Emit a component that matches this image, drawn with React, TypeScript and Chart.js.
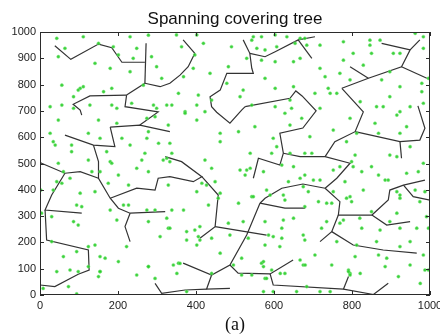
import React, { useEffect, useRef } from "react";
import { Chart, registerables } from "chart.js";

Chart.register(...registerables);

const chartTitle = "Spanning covering tree";
const axisCaption = "(a)";
const xTickValues = [0, 200, 400, 600, 800, 1000];
const yTickValues = [0, 100, 200, 300, 400, 500, 600, 700, 800, 900, 1000];

// Green sensor nodes, [x, y]
const nodesUpper: number[][] = [
  [43,976],[111,982],[150,957],[231,982],[278,988],[64,938],[188,944],[201,913],[248,938],[47,906],
  [239,900],[286,906],[180,862],[299,868],[141,881],[231,849],[56,798],[86,754],[103,786],[111,792],
  [98,779],[163,773],[184,786],[265,798],[312,824],[26,716],[56,722],[86,710],[128,722],[184,722],
  [197,710],[235,729],[291,722],[299,710],[325,722],
  [350,989],[402,989],[547,982],[568,982],[603,989],[633,982],[667,976],[363,944],[419,957],[491,944],
  [543,969],[556,938],[577,932],[607,944],[654,957],[397,913],[530,900],[568,893],[393,862],[436,843],
  [483,868],[603,887],[650,887],[368,830],[577,824],[479,805],[521,779],[603,786],[650,792],[355,767],
  [406,760],[513,754],[641,741],[338,722],[402,722],[372,697],[440,741],[603,716],[645,710],[543,722],
  [679,976],[718,950],[684,950],[778,963],[846,969],[872,969],[846,950],[962,995],[983,982],[803,919],
  [850,919],[906,919],[923,919],[983,938],[778,893],[829,874],[667,900],[718,862],[769,843],[731,830],
  [795,818],[876,818],[897,849],[996,824],[923,792],[979,805],[739,786],[705,767],[744,767],[761,767],
  [897,754],[979,773],[821,735],[863,716],[880,716],[949,716],[983,729],[718,710],[923,697]
];

const nodesMiddle: number[][] = [
  [47,665],[150,665],[197,653],[274,672],[295,678],[26,615],[34,583],[39,570],[81,570],[154,596],
  [210,596],[278,621],[304,577],[81,545],[124,615],[171,545],[231,570],[269,539],[274,596],[325,520],
  [124,513],[180,507],[184,501],[261,513],[316,513],[47,501],[60,469],[133,469],[154,469],[201,456],
  [248,482],[278,469],[43,431],[56,425],[77,444],[175,425],[227,418],[103,387],[141,393],[2,399],
  [34,399],[329,418],
  [329,646],[372,691],[402,665],[423,697],[628,691],[333,577],[462,615],[551,640],[641,646],[462,583],
  [509,621],[598,596],[607,564],[338,539],[423,513],[539,539],[594,539],[641,539],[333,507],[440,482],
  [513,475],[530,475],[526,456],[539,482],[573,469],[620,494],[650,488],[415,425],[449,431],[427,418],
  [402,393],[462,387],[581,399],[590,380],[543,374],[637,431],[667,444],[624,380],
  [671,672],[795,672],[859,653],[915,684],[940,640],[752,627],[692,602],[786,583],[812,615],[868,615],
  [923,615],[949,564],[679,539],[697,539],[808,532],[799,507],[803,488],[850,488],[897,532],[915,526],
  [983,501],[679,456],[752,475],[769,488],[825,469],[868,456],[940,463],[970,469],[701,437],[718,437],
  [782,431],[885,437],[893,437],[829,399],[688,393],[752,393],[795,374],[915,393],[923,380],[962,399],
  [987,393],[675,412]
];

const nodesLower: number[][] = [
  [94,342],[107,336],[86,279],[98,266],[30,298],[180,323],[214,342],[227,342],[274,323],[295,323],
  [197,285],[278,279],[329,254],[4,311],[30,203],[94,165],[124,184],[141,190],[60,146],[154,146],
  [167,140],[201,127],[222,184],[308,222],[278,108],[124,108],[154,89],[77,95],[43,89],
  [457,368],[432,342],[509,349],[547,374],[628,361],[338,323],[368,323],[325,292],[333,254],[410,260],
  [483,273],[521,279],[577,279],[624,285],[650,292],[376,241],[397,247],[406,222],[410,209],[376,209],
  [402,190],[440,216],[487,228],[534,216],[620,254],[586,228],[598,222],[620,216],[577,190],[615,184],
  [462,159],[517,140],[568,121],[573,108],[594,95],[342,114],[355,121],[628,82],[667,133],
  [679,336],[714,355],[735,349],[748,349],[786,368],[799,355],[923,368],[974,355],[850,317],[915,311],
  [991,298],[778,285],[820,292],[735,279],[675,228],[722,254],[769,273],[825,254],[872,247],[923,254],
  [966,254],[996,254],[897,279],[679,209],[761,203],[812,190],[863,203],[923,184],[949,203],[705,152],
  [808,146],[868,152],[889,140],[983,152],[675,114],[748,114],[791,95],[795,82],[949,114],[987,95],
  [98,89],[154,89],[150,70],[248,76],[278,108],[351,82],[359,120],[440,82],[496,114],[517,76],
  [543,76],[573,127],[577,63],[581,63],[573,13],[598,13],[616,82],[658,13],[684,32],[718,13],
  [744,13],[680,114],[791,89],[795,76],[821,82],[919,70],[975,44],[996,95],[73,32],[94,4],
  [295,63],[376,13],[885,108],[8,25]
];

// Tree branches (polylines), [x, y] vertices
const branchesNorth: number[][][] = [
  [[38,948],[79,896],[150,954],[184,940],[210,885],[269,885]],
  [[272,957],[269,805]],
  [[269,805],[308,792],[333,805],[359,836],[380,868],[397,919],[367,970]],
  [[269,805],[222,760]],
  [[222,760],[128,757],[85,725],[103,703],[107,684]],
  [[222,760],[218,716],[303,696],[256,646]],
  [[538,919],[577,906],[603,925],[662,970],[705,982]],
  [[662,970],[697,900]],
  [[521,970],[538,919],[543,862],[547,843],[479,843],[462,779],[436,754],[440,716],[453,695],[487,653],[517,703],[526,716]],
  [[526,716],[641,748],[656,776],[672,757],[708,700],[674,635],[615,615],[624,539],[615,494],[560,520],[547,444]],
  [[774,786],[842,824],[927,868],[949,932],[974,970]],
  [[949,932],[876,957]],
  [[927,868],[992,824]],
  [[795,868],[842,824]]
];

const branchesCentral: number[][][] = [
  [[180,638],[256,646],[333,621]],
  [[180,638],[192,564],[137,570],[64,608]],
  [[137,570],[150,507],[150,444],[180,368],[201,330],[231,311],[321,317]],
  [[0,505],[4,501],[64,463],[103,469],[150,444]],
  [[180,368],[248,406],[295,399],[303,444],[333,450],[393,431],[415,450],[363,507],[321,526]],
  [[731,406],[761,444],[795,501],[731,526],[667,526],[624,539]],
  [[731,526],[756,583],[808,621],[829,696],[774,786]],
  [[808,621],[923,583],[974,589],[987,634],[969,719]],
  [[923,583],[927,520]]
];

const branchesSouth: number[][][] = [
  [[64,463],[30,380],[13,323],[107,311]],
  [[13,323],[17,209],[124,171],[126,95],[98,79],[38,32],[0,38]],
  [[231,311],[218,260],[231,203]],
  [[415,450],[457,380],[449,260],[410,216]],
  [[449,260],[581,228]],
  [[564,349],[530,228],[487,114],[440,76],[367,121]],
  [[440,76],[427,22],[487,25]],
  [[427,22],[372,19],[312,6],[295,44]],
  [[487,114],[508,83],[590,80],[649,133]],
  [[590,80],[598,38],[778,22],[855,2],[893,45]],
  [[778,22],[791,70]],
  [[564,349],[577,368],[620,406],[674,422],[731,406]],
  [[564,349],[628,330],[680,330]],
  [[731,406],[769,355],[765,304],[851,304],[893,361],[897,399],[932,418],[987,437]],
  [[932,418],[957,374],[1000,361]],
  [[851,304],[889,266],[949,279]],
  [[765,304],[748,241],[718,203]],
  [[748,241],[803,190],[880,171],[966,159]]
];

const toXY = (pts: number[][]) => pts.map(([x, y]) => ({ x, y }));

export default function App() {
  const ref = useRef<HTMLCanvasElement>(null);

  useEffect(() => {
    if (!ref.current) return;
    const boxPlugin = {
      id: "matlabBox",
      afterDatasetsDraw(chart: any) {
        const { ctx, chartArea: a, scales } = chart;
        const xs = scales.x;
        const ys = scales.y;
        ctx.save();
        ctx.strokeStyle = "#2b2b2b";
        ctx.lineWidth = 1;
        ctx.strokeRect(a.left + 0.5, a.top + 0.5, a.right - a.left - 1, a.bottom - a.top - 1);
        const tl = 4;
        ctx.beginPath();
        xTickValues.forEach((v) => {
          const px = Math.round(xs.getPixelForValue(v)) + 0.5;
          ctx.moveTo(px, a.bottom);
          ctx.lineTo(px, a.bottom - tl);
          ctx.moveTo(px, a.top);
          ctx.lineTo(px, a.top + tl);
        });
        yTickValues.forEach((v) => {
          const py = Math.round(ys.getPixelForValue(v)) + 0.5;
          ctx.moveTo(a.left, py);
          ctx.lineTo(a.left + tl, py);
          ctx.moveTo(a.right, py);
          ctx.lineTo(a.right - tl, py);
        });
        ctx.stroke();
        ctx.restore();
      },
    };

    const allNodes = [...nodesUpper, ...nodesMiddle, ...nodesLower];
    const allBranches = [...branchesNorth, ...branchesCentral, ...branchesSouth];

    const datasets: any[] = [
      {
        label: "nodes",
        data: toXY(allNodes),
        pointRadius: 1.6,
        pointBackgroundColor: "rgba(40,205,40,0.9)",
        pointBorderColor: "rgba(130,230,130,0.6)",
        pointBorderWidth: 0.8,
        showLine: false,
      },
      ...allBranches.map((b, i) => ({
        label: "branch" + i,
        data: toXY(b),
        showLine: true,
        pointRadius: 0,
        borderColor: "#333333",
        borderWidth: 1.2,
        fill: false,
        tension: 0,
      })),
    ];

    const tickFont = { family: "'Liberation Sans', Arial, sans-serif", size: 11 };

    const chart = new Chart(ref.current, {
      type: "scatter",
      data: { datasets },
      options: {
        animation: false,
        responsive: false,
        events: [],
        layout: { padding: { left: 0, right: 10, top: 0, bottom: 0 } },
        plugins: {
          legend: { display: false },
          tooltip: { enabled: false },
          title: {
            display: true,
            text: chartTitle,
            fullSize: false,
            color: "#111",
            font: { family: "'Liberation Sans', Arial, sans-serif", size: 17, weight: "normal" },
            padding: { top: 9, bottom: 2.6 },
          },
        },
        scales: {
          x: {
            type: "linear",
            min: 0,
            max: 1000,
            grid: { display: false, drawTicks: false },
            border: { display: false },
            ticks: {
              stepSize: 200,
              autoSkip: false,
              maxRotation: 0,
              padding: 4,
              color: "#222",
              font: tickFont,
              callback: (v: any) => String(v),
            },
            title: {
              display: true,
              text: axisCaption,
              color: "#111",
              font: { family: "'Liberation Serif', 'Times New Roman', serif", size: 18 },
              padding: { top: 0, bottom: 0 },
            },
            afterFit: (s: any) => {
              s.height = 41;
              s.paddingLeft = 0;
              s.paddingRight = 0;
            },
          },
          y: {
            type: "linear",
            min: 0,
            max: 1000,
            grid: { display: false, drawTicks: false },
            border: { display: false },
            ticks: {
              stepSize: 100,
              autoSkip: false,
              padding: 4,
              color: "#222",
              font: tickFont,
              callback: (v: any) => String(v),
            },
            afterFit: (s: any) => {
              s.width = 40;
              s.paddingTop = 0;
              s.paddingBottom = 0;
            },
          },
        },
      },
      plugins: [boxPlugin],
    });

    return () => chart.destroy();
  }, []);

  return (
    <div style={{ position: "absolute", left: 0, top: 0, width: 440, height: 336, background: "#fff" }}>
      <canvas ref={ref} width={440} height={336} style={{ display: "block" }} />
    </div>
  );
}
